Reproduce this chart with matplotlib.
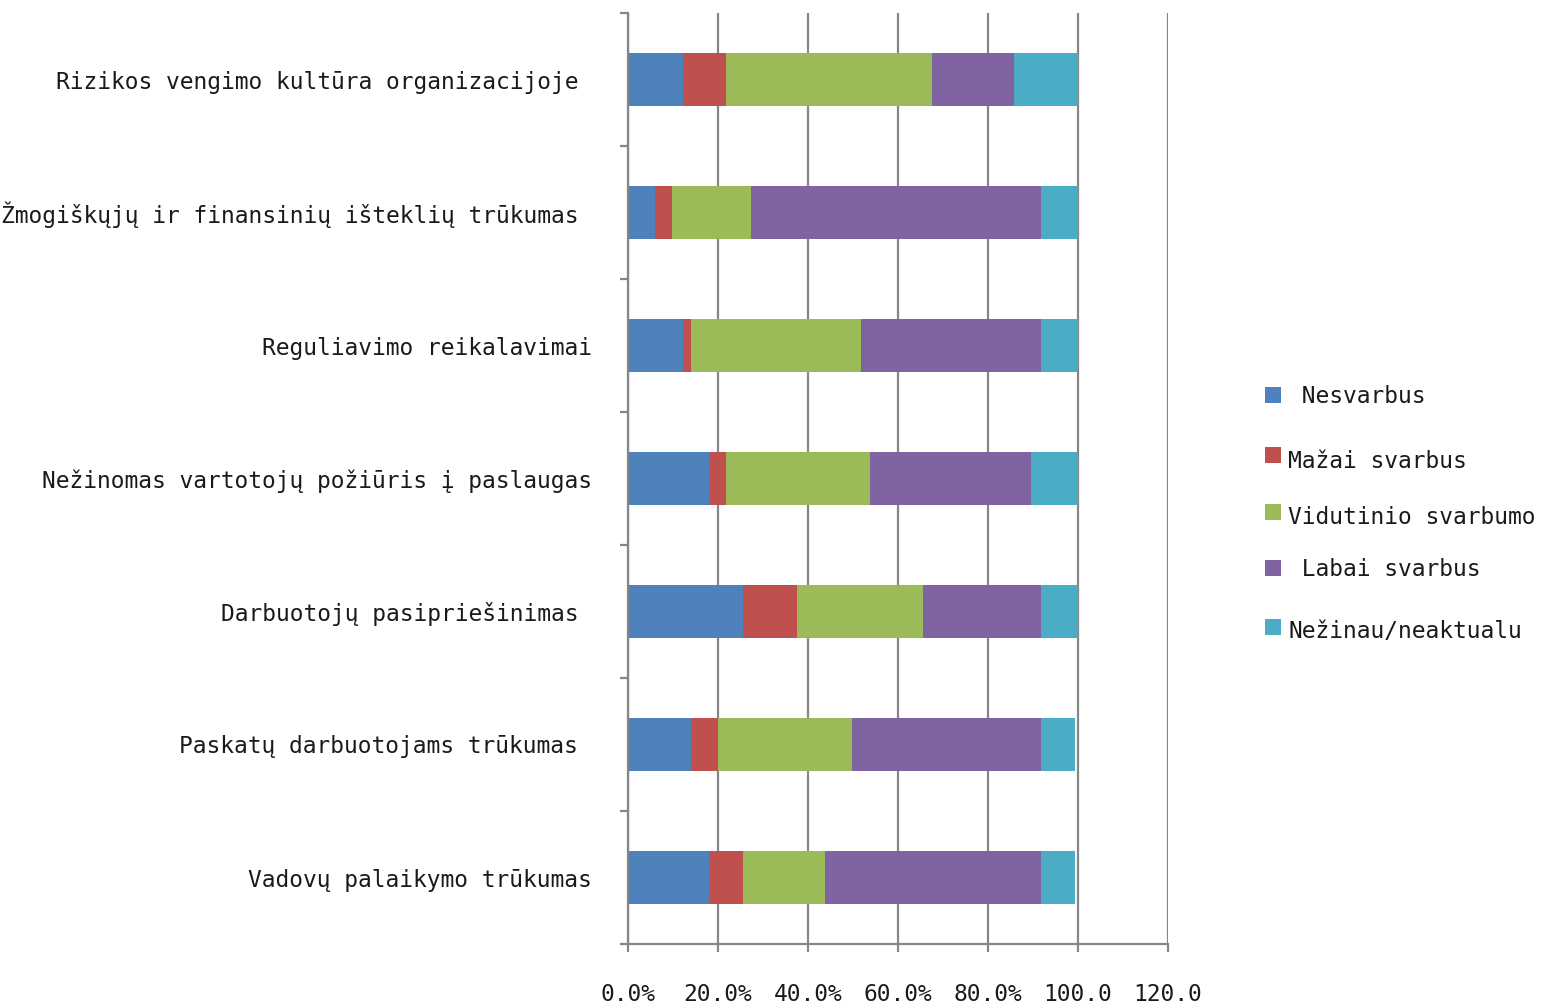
import matplotlib
matplotlib.use("Agg")
import matplotlib.pyplot as plt
from matplotlib.patches import Rectangle
import numpy as np

categories = [
    "Rizikos vengimo kultūra organizacijoje ",
    "Žmogiškųjų ir finansinių išteklių trūkumas ",
    "Reguliavimo reikalavimai",
    "Nežinomas vartotojų požiūris į paslaugas",
    "Darbuotojų pasipriešinimas ",
    "Paskatų darbuotojams trūkumas ",
    "Vadovų palaikymo trūkumas",
]
series_names = [" Nesvarbus", "Mažai svarbus", "Vidutinio svarbumo", " Labai svarbus", "Nežinau/neaktualu"]
nesvarbus = [12.2, 5.9, 12.2, 18.0, 25.6, 14.1, 18.0]
mazai = [9.5, 3.9, 1.9, 3.7, 11.9, 5.8, 7.6]
vidutinio = [45.8, 17.6, 37.7, 32.0, 28.1, 29.9, 18.1]
labai = [18.2, 64.4, 40.0, 35.8, 26.2, 42.0, 48.1]
nezinau = [14.2, 8.1, 8.1, 10.4, 8.1, 7.6, 7.6]
xtick_values = [0, 20, 40, 60, 80, 100, 120]
xtick_labels = ["0.0%", "20.0%", "40.0%", "60.0%", "80.0%", "100.0", "120.0"]

colors = ["#4F81BD", "#C0504D", "#9BBB59", "#8064A2", "#4BACC6"]
grid_c = "#868686"
text_c = "#1a1a1a"
plt.rcParams["font.family"] = ["DejaVu Sans Mono", "DejaVu Sans"]
fs = 16.5

W, H = 1556, 1005
fig = plt.figure(figsize=(W / 100, H / 100), dpi=100)
ax = fig.add_axes([628 / W, 1 - 944 / H, 540 / W, 931 / H])

n = len(categories)
y = np.arange(n)[::-1]  # first category at top
data = [nesvarbus, mazai, vidutinio, labai, nezinau]
left = np.zeros(n)
for vals, c, name in zip(data, colors, series_names):
    ax.barh(y, vals, left=left, height=0.4, color=c, label=name, edgecolor="none")
    left += np.array(vals)

ax.set_xlim(0, 120)
ax.set_ylim(-0.5, n - 0.5)
ax.set_xticks(xtick_values)
ax.set_xticklabels(xtick_labels, fontsize=fs, color=text_c)
ax.xaxis.grid(True, color=grid_c, linewidth=1.6)
ax.set_axisbelow(True)

ax.set_yticks(y)
ax.set_yticklabels(categories, fontsize=fs, color=text_c)
ax.set_yticks(np.arange(-0.5, n, 1.0), minor=True)
ax.tick_params(axis="y", which="major", length=0, pad=26)
ax.tick_params(axis="y", which="minor", length=6, width=1.6, color=grid_c, direction="out")
ax.tick_params(axis="x", which="major", length=6, width=1.6, color=grid_c, direction="out", pad=22)

for s in ["top", "right"]:
    ax.spines[s].set_visible(False)
for s in ["left", "bottom"]:
    ax.spines[s].set_color(grid_c)
    ax.spines[s].set_linewidth(1.6)

# Legend drawn manually (layout in pixel units, matching the reference's spacing)
legend_square_cy = [395, 455, 512, 568, 627]
legend_text_cy = [395, 460, 516, 568, 630]
sq = 16
for name, c, scy, tcy in zip(series_names, colors, legend_square_cy, legend_text_cy):
    fig.add_artist(Rectangle((1265 / W, 1 - (scy + sq / 2) / H), sq / W, sq / H,
                             transform=fig.transFigure, facecolor=c, edgecolor="none"))
    fig.text(1288 / W, 1 - (tcy + 8) / H, name, fontsize=fs, color=text_c,
             ha="left", va="baseline")

fig.savefig("out.png", dpi=100)
